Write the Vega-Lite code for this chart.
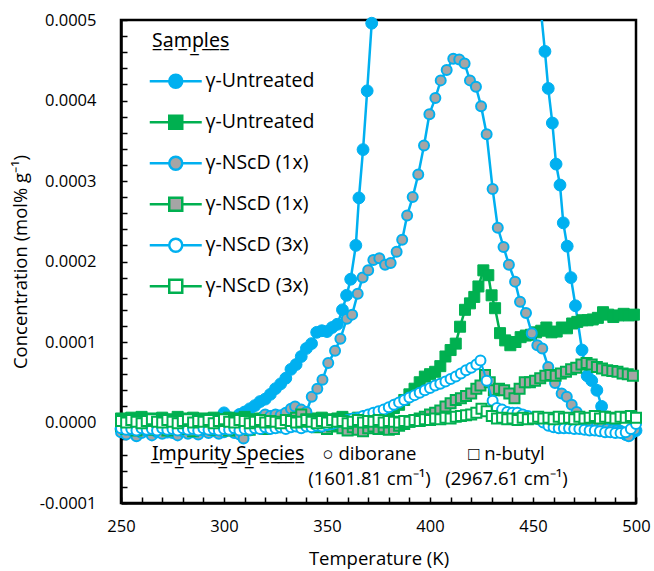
{
"$schema":"https://vega.github.io/schema/vega-lite/v6.json",
"width":515,"height":483,"autosize":"none",
"padding":{"left":121,"top":20,"right":18,"bottom":68},
"config":{"font":"Open Sans","view":{"stroke":"black","strokeWidth":2.5},"axis":{"grid":false},"style":{"guide-label":{"lineHeight":25}}},
"datasets":{"d":[
{"s":"A","T":250,"c":-0.08e-4},{"s":"A","T":252.5,"c":-0.10e-4},{"s":"A","T":255,"c":-0.07e-4},{"s":"A","T":257.5,"c":-0.09e-4},{"s":"A","T":260,"c":-0.11e-4},{"s":"A","T":262.5,"c":-0.08e-4},{"s":"A","T":265,"c":-0.10e-4},{"s":"A","T":267.5,"c":-0.07e-4},{"s":"A","T":270,"c":-0.09e-4},{"s":"A","T":272.5,"c":-0.12e-4},{"s":"A","T":275,"c":-0.08e-4},{"s":"A","T":277.5,"c":-0.09e-4},{"s":"A","T":280,"c":-0.06e-4},{"s":"A","T":282.5,"c":-0.10e-4},{"s":"A","T":285,"c":-0.08e-4},{"s":"A","T":287.5,"c":-0.07e-4},{"s":"A","T":290,"c":-0.05e-4},{"s":"A","T":292.5,"c":-0.04e-4},{"s":"A","T":295,"c":-0.02e-4},{"s":"A","T":297.5,"c":0.02e-4},{"s":"A","T":300,"c":0.12e-4},{"s":"A","T":302.5,"c":0.06e-4},{"s":"A","T":305,"c":0.05e-4},{"s":"A","T":307.5,"c":0.10e-4},{"s":"A","T":310,"c":0.13e-4},{"s":"A","T":312.5,"c":0.17e-4},{"s":"A","T":315,"c":0.21e-4},{"s":"A","T":317.5,"c":0.26e-4},{"s":"A","T":320,"c":0.29e-4},{"s":"A","T":322.5,"c":0.35e-4},{"s":"A","T":325,"c":0.42e-4},{"s":"A","T":327.5,"c":0.48e-4},{"s":"A","T":330,"c":0.55e-4},{"s":"A","T":332.5,"c":0.66e-4},{"s":"A","T":335,"c":0.72e-4},{"s":"A","T":337.5,"c":0.82e-4},{"s":"A","T":340,"c":0.92e-4},{"s":"A","T":342.5,"c":0.98e-4},{"s":"A","T":345,"c":1.12e-4},{"s":"A","T":347.5,"c":1.14e-4},{"s":"A","T":350,"c":1.13e-4},{"s":"A","T":352.5,"c":1.18e-4},{"s":"A","T":355,"c":1.22e-4},{"s":"A","T":357.5,"c":1.40e-4},{"s":"A","T":359.5,"c":1.58e-4},{"s":"A","T":361.5,"c":1.78e-4},{"s":"A","T":364,"c":2.20e-4},{"s":"A","T":365.5,"c":2.79e-4},{"s":"A","T":367.5,"c":3.39e-4},{"s":"A","T":369.5,"c":4.12e-4},{"s":"A","T":371.7,"c":4.96e-4},{"s":"A","T":374,"c":5.9e-4},{"s":"A","T":378,"c":7.5e-4},{"s":"A","T":385,"c":9.3e-4},{"s":"A","T":395,"c":10.6e-4},{"s":"A","T":405,"c":11.3e-4},{"s":"A","T":415,"c":11.4e-4},{"s":"A","T":425,"c":10.8e-4},{"s":"A","T":435,"c":9.4e-4},{"s":"A","T":445,"c":7.3e-4},{"s":"A","T":451,"c":5.9e-4},{"s":"A","T":453.5,"c":5.2e-4},{"s":"A","T":455.8,"c":4.61e-4},{"s":"A","T":457.4,"c":4.15e-4},{"s":"A","T":459.4,"c":3.72e-4},{"s":"A","T":461.2,"c":3.21e-4},{"s":"A","T":463.1,"c":2.95e-4},{"s":"A","T":464.7,"c":2.48e-4},{"s":"A","T":466.6,"c":2.19e-4},{"s":"A","T":468.4,"c":1.80e-4},{"s":"A","T":470.6,"c":1.45e-4},{"s":"A","T":473.8,"c":0.90e-4},{"s":"A","T":476.3,"c":0.58e-4},{"s":"A","T":478.5,"c":0.52e-4},{"s":"A","T":481,"c":0.40e-4},{"s":"A","T":483.3,"c":0.20e-4},{"s":"A","T":485.8,"c":0.07e-4},{"s":"A","T":488.2,"c":-0.03e-4},{"s":"A","T":490.5,"c":-0.08e-4},{"s":"A","T":492.5,"c":-0.11e-4},{"s":"A","T":495,"c":-0.15e-4},{"s":"A","T":497.5,"c":-0.14e-4},{"s":"A","T":500,"c":-0.10e-4},
{"s":"B","T":250,"c":0.05e-4},{"s":"B","T":252.5,"c":0.03e-4},{"s":"B","T":255,"c":0.06e-4},{"s":"B","T":257.5,"c":0.04e-4},{"s":"B","T":260,"c":0.07e-4},{"s":"B","T":262.5,"c":0.03e-4},{"s":"B","T":265,"c":0.05e-4},{"s":"B","T":267.5,"c":0.02e-4},{"s":"B","T":270,"c":0.06e-4},{"s":"B","T":272.5,"c":0.04e-4},{"s":"B","T":275,"c":0.03e-4},{"s":"B","T":277.5,"c":0.07e-4},{"s":"B","T":280,"c":0.05e-4},{"s":"B","T":282.5,"c":0.02e-4},{"s":"B","T":285,"c":0.06e-4},{"s":"B","T":287.5,"c":0.04e-4},{"s":"B","T":290,"c":0.05e-4},{"s":"B","T":292.5,"c":0.03e-4},{"s":"B","T":295,"c":0.06e-4},{"s":"B","T":297.5,"c":0.04e-4},{"s":"B","T":300,"c":0.02e-4},{"s":"B","T":302.5,"c":0.06e-4},{"s":"B","T":305,"c":0.05e-4},{"s":"B","T":307.5,"c":0.03e-4},{"s":"B","T":310,"c":0.07e-4},{"s":"B","T":312.5,"c":0.04e-4},{"s":"B","T":315,"c":0.02e-4},{"s":"B","T":317.5,"c":0.05e-4},{"s":"B","T":320,"c":0.06e-4},{"s":"B","T":322.5,"c":0.03e-4},{"s":"B","T":325,"c":0.04e-4},{"s":"B","T":327.5,"c":0.07e-4},{"s":"B","T":330,"c":0.05e-4},{"s":"B","T":332.5,"c":0.03e-4},{"s":"B","T":335,"c":0.02e-4},{"s":"B","T":337.5,"c":0.06e-4},{"s":"B","T":340,"c":0.04e-4},{"s":"B","T":342.5,"c":0.05e-4},{"s":"B","T":345,"c":0.03e-4},{"s":"B","T":347.5,"c":0.06e-4},{"s":"B","T":350,"c":0.04e-4},{"s":"B","T":352.5,"c":0.02e-4},{"s":"B","T":355,"c":0.05e-4},{"s":"B","T":357.5,"c":0.07e-4},{"s":"B","T":360,"c":0.04e-4},{"s":"B","T":362.5,"c":0.03e-4},{"s":"B","T":365,"c":0.06e-4},{"s":"B","T":367.5,"c":0.05e-4},{"s":"B","T":370,"c":0.08e-4},{"s":"B","T":372.5,"c":0.06e-4},{"s":"B","T":375,"c":0.09e-4},{"s":"B","T":377.5,"c":0.11e-4},{"s":"B","T":380,"c":0.14e-4},{"s":"B","T":382.5,"c":0.18e-4},{"s":"B","T":385,"c":0.22e-4},{"s":"B","T":387.5,"c":0.28e-4},{"s":"B","T":390,"c":0.35e-4},{"s":"B","T":392.5,"c":0.42e-4},{"s":"B","T":395,"c":0.50e-4},{"s":"B","T":397.5,"c":0.57e-4},{"s":"B","T":400,"c":0.60e-4},{"s":"B","T":402.5,"c":0.63e-4},{"s":"B","T":405,"c":0.70e-4},{"s":"B","T":407.5,"c":0.82e-4},{"s":"B","T":410,"c":0.90e-4},{"s":"B","T":412.5,"c":0.98e-4},{"s":"B","T":414.6,"c":1.19e-4},{"s":"B","T":417,"c":1.40e-4},{"s":"B","T":419.4,"c":1.48e-4},{"s":"B","T":421.5,"c":1.56e-4},{"s":"B","T":423.5,"c":1.69e-4},{"s":"B","T":425.9,"c":1.89e-4},{"s":"B","T":428.3,"c":1.83e-4},{"s":"B","T":429.9,"c":1.58e-4},{"s":"B","T":431.6,"c":1.42e-4},{"s":"B","T":434,"c":1.11e-4},{"s":"B","T":436.5,"c":1.02e-4},{"s":"B","T":439,"c":0.96e-4},{"s":"B","T":441.5,"c":1.00e-4},{"s":"B","T":444,"c":1.06e-4},{"s":"B","T":446.5,"c":1.08e-4},{"s":"B","T":449,"c":1.09e-4},{"s":"B","T":451.5,"c":1.12e-4},{"s":"B","T":454,"c":1.14e-4},{"s":"B","T":456.5,"c":1.18e-4},{"s":"B","T":459,"c":1.12e-4},{"s":"B","T":461.5,"c":1.13e-4},{"s":"B","T":464,"c":1.18e-4},{"s":"B","T":466.5,"c":1.17e-4},{"s":"B","T":469,"c":1.23e-4},{"s":"B","T":471.5,"c":1.25e-4},{"s":"B","T":474,"c":1.27e-4},{"s":"B","T":476.5,"c":1.27e-4},{"s":"B","T":479,"c":1.28e-4},{"s":"B","T":481.5,"c":1.30e-4},{"s":"B","T":484,"c":1.37e-4},{"s":"B","T":486.5,"c":1.34e-4},{"s":"B","T":489,"c":1.31e-4},{"s":"B","T":491.5,"c":1.33e-4},{"s":"B","T":494,"c":1.35e-4},{"s":"B","T":496.5,"c":1.33e-4},{"s":"B","T":499,"c":1.34e-4},
{"s":"C","T":250,"c":-0.12e-4},{"s":"C","T":252.5,"c":-0.15e-4},{"s":"C","T":255,"c":-0.10e-4},{"s":"C","T":257.5,"c":-0.17e-4},{"s":"C","T":260,"c":-0.13e-4},{"s":"C","T":262.5,"c":-0.11e-4},{"s":"C","T":265,"c":-0.16e-4},{"s":"C","T":267.5,"c":-0.12e-4},{"s":"C","T":270,"c":-0.14e-4},{"s":"C","T":272.5,"c":-0.10e-4},{"s":"C","T":275,"c":-0.13e-4},{"s":"C","T":277.5,"c":-0.16e-4},{"s":"C","T":280,"c":-0.11e-4},{"s":"C","T":282.5,"c":-0.14e-4},{"s":"C","T":285,"c":-0.12e-4},{"s":"C","T":287.5,"c":-0.15e-4},{"s":"C","T":290,"c":-0.10e-4},{"s":"C","T":292.5,"c":-0.13e-4},{"s":"C","T":295,"c":-0.11e-4},{"s":"C","T":297.5,"c":-0.14e-4},{"s":"C","T":300,"c":-0.12e-4},{"s":"C","T":302.5,"c":-0.10e-4},{"s":"C","T":305,"c":-0.13e-4},{"s":"C","T":307.5,"c":-0.15e-4},{"s":"C","T":309.5,"c":-0.20e-4},{"s":"C","T":312.5,"c":-0.10e-4},{"s":"C","T":315,"c":-0.04e-4},{"s":"C","T":317.5,"c":0.03e-4},{"s":"C","T":320,"c":0.10e-4},{"s":"C","T":322.5,"c":0.08e-4},{"s":"C","T":325,"c":0.10e-4},{"s":"C","T":327.5,"c":0.09e-4},{"s":"C","T":330,"c":0.12e-4},{"s":"C","T":332.5,"c":0.17e-4},{"s":"C","T":334.5,"c":0.20e-4},{"s":"C","T":337.5,"c":0.16e-4},{"s":"C","T":340,"c":0.13e-4},{"s":"C","T":342.6,"c":0.32e-4},{"s":"C","T":345.3,"c":0.42e-4},{"s":"C","T":347.8,"c":0.53e-4},{"s":"C","T":350.6,"c":0.74e-4},{"s":"C","T":353.9,"c":0.89e-4},{"s":"C","T":356.5,"c":1.04e-4},{"s":"C","T":359.6,"c":1.29e-4},{"s":"C","T":362.2,"c":1.34e-4},{"s":"C","T":364.9,"c":1.60e-4},{"s":"C","T":367.3,"c":1.80e-4},{"s":"C","T":370,"c":1.89e-4},{"s":"C","T":372.5,"c":2.02e-4},{"s":"C","T":375.4,"c":2.04e-4},{"s":"C","T":378.2,"c":1.96e-4},{"s":"C","T":380.9,"c":1.98e-4},{"s":"C","T":383.8,"c":2.12e-4},{"s":"C","T":386.5,"c":2.27e-4},{"s":"C","T":388.9,"c":2.57e-4},{"s":"C","T":391.6,"c":2.80e-4},{"s":"C","T":394.3,"c":3.08e-4},{"s":"C","T":397.1,"c":3.44e-4},{"s":"C","T":399.7,"c":3.83e-4},{"s":"C","T":402.6,"c":4.03e-4},{"s":"C","T":405.2,"c":4.25e-4},{"s":"C","T":408.1,"c":4.38e-4},{"s":"C","T":411.3,"c":4.52e-4},{"s":"C","T":414.2,"c":4.51e-4},{"s":"C","T":416.8,"c":4.46e-4},{"s":"C","T":419.4,"c":4.25e-4},{"s":"C","T":422.3,"c":4.17e-4},{"s":"C","T":424.8,"c":3.93e-4},{"s":"C","T":427.5,"c":3.58e-4},{"s":"C","T":430.4,"c":2.90e-4},{"s":"C","T":432.9,"c":2.42e-4},{"s":"C","T":435.7,"c":2.18e-4},{"s":"C","T":438.3,"c":1.96e-4},{"s":"C","T":441.3,"c":1.75e-4},{"s":"C","T":443.7,"c":1.50e-4},{"s":"C","T":446.6,"c":1.36e-4},{"s":"C","T":449.4,"c":1.11e-4},{"s":"C","T":452.1,"c":0.96e-4},{"s":"C","T":454.5,"c":0.92e-4},{"s":"C","T":457.4,"c":0.69e-4},{"s":"C","T":460.7,"c":0.49e-4},{"s":"C","T":463.9,"c":0.36e-4},{"s":"C","T":466.4,"c":0.32e-4},{"s":"C","T":468.8,"c":0.22e-4},{"s":"C","T":471.2,"c":0.13e-4},{"s":"C","T":473.5,"c":0.07e-4},{"s":"C","T":475.5,"c":0.03e-4},{"s":"C","T":478,"c":-0.01e-4},{"s":"C","T":480.9,"c":-0.05e-4},{"s":"C","T":483.5,"c":-0.06e-4},{"s":"C","T":485.8,"c":-0.08e-4},{"s":"C","T":488.5,"c":-0.09e-4},{"s":"C","T":490.5,"c":-0.10e-4},{"s":"C","T":492.5,"c":-0.11e-4},{"s":"C","T":494.5,"c":-0.14e-4},{"s":"C","T":496.5,"c":-0.17e-4},{"s":"C","T":499.5,"c":-0.09e-4},
{"s":"D","T":250,"c":-0.04e-4},{"s":"D","T":252.5,"c":-0.08e-4},{"s":"D","T":255,"c":-0.02e-4},{"s":"D","T":257.5,"c":-0.10e-4},{"s":"D","T":260,"c":-0.05e-4},{"s":"D","T":262.5,"c":-0.01e-4},{"s":"D","T":265,"c":-0.09e-4},{"s":"D","T":267.5,"c":-0.06e-4},{"s":"D","T":270,"c":-0.03e-4},{"s":"D","T":272.5,"c":-0.10e-4},{"s":"D","T":275,"c":-0.05e-4},{"s":"D","T":277.5,"c":-0.02e-4},{"s":"D","T":280,"c":-0.08e-4},{"s":"D","T":282.5,"c":-0.04e-4},{"s":"D","T":285,"c":-0.11e-4},{"s":"D","T":287.5,"c":-0.06e-4},{"s":"D","T":290,"c":-0.02e-4},{"s":"D","T":292.5,"c":-0.07e-4},{"s":"D","T":295,"c":-0.09e-4},{"s":"D","T":297.5,"c":-0.03e-4},{"s":"D","T":300,"c":-0.05e-4},{"s":"D","T":302.5,"c":-0.10e-4},{"s":"D","T":305,"c":-0.04e-4},{"s":"D","T":307.5,"c":-0.07e-4},{"s":"D","T":310,"c":-0.02e-4},{"s":"D","T":312.5,"c":-0.09e-4},{"s":"D","T":315,"c":-0.05e-4},{"s":"D","T":317.5,"c":-0.03e-4},{"s":"D","T":320,"c":-0.08e-4},{"s":"D","T":322.5,"c":-0.04e-4},{"s":"D","T":325,"c":-0.06e-4},{"s":"D","T":327.5,"c":-0.02e-4},{"s":"D","T":330,"c":-0.05e-4},{"s":"D","T":332.5,"c":0.02e-4},{"s":"D","T":335,"c":0.06e-4},{"s":"D","T":337.5,"c":0.10e-4},{"s":"D","T":340,"c":0.04e-4},{"s":"D","T":342.5,"c":-0.02e-4},{"s":"D","T":345,"c":-0.06e-4},{"s":"D","T":347.5,"c":-0.04e-4},{"s":"D","T":350,"c":-0.08e-4},{"s":"D","T":352.5,"c":-0.05e-4},{"s":"D","T":355,"c":-0.03e-4},{"s":"D","T":357.5,"c":-0.07e-4},{"s":"D","T":360,"c":-0.10e-4},{"s":"D","T":362.5,"c":-0.06e-4},{"s":"D","T":365,"c":-0.09e-4},{"s":"D","T":367.5,"c":-0.11e-4},{"s":"D","T":370,"c":-0.07e-4},{"s":"D","T":372.5,"c":-0.05e-4},{"s":"D","T":375,"c":-0.08e-4},{"s":"D","T":377.5,"c":-0.06e-4},{"s":"D","T":380,"c":-0.09e-4},{"s":"D","T":382.5,"c":-0.08e-4},{"s":"D","T":385,"c":-0.04e-4},{"s":"D","T":387.5,"c":-0.02e-4},{"s":"D","T":390,"c":0.01e-4},{"s":"D","T":392.5,"c":0.03e-4},{"s":"D","T":395,"c":0.05e-4},{"s":"D","T":397.5,"c":0.07e-4},{"s":"D","T":400,"c":0.10e-4},{"s":"D","T":402.5,"c":0.12e-4},{"s":"D","T":405,"c":0.15e-4},{"s":"D","T":407.5,"c":0.20e-4},{"s":"D","T":410,"c":0.24e-4},{"s":"D","T":412.5,"c":0.28e-4},{"s":"D","T":415,"c":0.30e-4},{"s":"D","T":417.5,"c":0.33e-4},{"s":"D","T":420,"c":0.36e-4},{"s":"D","T":422.5,"c":0.42e-4},{"s":"D","T":424.5,"c":0.46e-4},{"s":"D","T":426.7,"c":0.59e-4},{"s":"D","T":429,"c":0.50e-4},{"s":"D","T":431,"c":0.40e-4},{"s":"D","T":433.5,"c":0.42e-4},{"s":"D","T":436,"c":0.40e-4},{"s":"D","T":438.5,"c":0.36e-4},{"s":"D","T":441,"c":0.30e-4},{"s":"D","T":443.5,"c":0.42e-4},{"s":"D","T":446,"c":0.50e-4},{"s":"D","T":448.5,"c":0.50e-4},{"s":"D","T":451,"c":0.52e-4},{"s":"D","T":453.5,"c":0.55e-4},{"s":"D","T":456,"c":0.58e-4},{"s":"D","T":458.5,"c":0.59e-4},{"s":"D","T":461,"c":0.58e-4},{"s":"D","T":463.5,"c":0.61e-4},{"s":"D","T":466,"c":0.63e-4},{"s":"D","T":468.5,"c":0.66e-4},{"s":"D","T":471,"c":0.68e-4},{"s":"D","T":473.5,"c":0.72e-4},{"s":"D","T":476,"c":0.74e-4},{"s":"D","T":478.5,"c":0.72e-4},{"s":"D","T":481,"c":0.69e-4},{"s":"D","T":483.5,"c":0.67e-4},{"s":"D","T":486,"c":0.65e-4},{"s":"D","T":488.5,"c":0.64e-4},{"s":"D","T":491,"c":0.63e-4},{"s":"D","T":493.5,"c":0.61e-4},{"s":"D","T":496,"c":0.60e-4},{"s":"D","T":498.5,"c":0.58e-4},
{"s":"E","T":250,"c":-0.07e-4},{"s":"E","T":252.5,"c":-0.09e-4},{"s":"E","T":255,"c":-0.08e-4},{"s":"E","T":257.5,"c":-0.10e-4},{"s":"E","T":260,"c":-0.07e-4},{"s":"E","T":262.5,"c":-0.09e-4},{"s":"E","T":265,"c":-0.08e-4},{"s":"E","T":267.5,"c":-0.10e-4},{"s":"E","T":270,"c":-0.07e-4},{"s":"E","T":272.5,"c":-0.09e-4},{"s":"E","T":275,"c":-0.08e-4},{"s":"E","T":277.5,"c":-0.10e-4},{"s":"E","T":280,"c":-0.07e-4},{"s":"E","T":282.5,"c":-0.09e-4},{"s":"E","T":285,"c":-0.08e-4},{"s":"E","T":287.5,"c":-0.10e-4},{"s":"E","T":290,"c":-0.07e-4},{"s":"E","T":292.5,"c":-0.09e-4},{"s":"E","T":295,"c":-0.08e-4},{"s":"E","T":297.5,"c":-0.10e-4},{"s":"E","T":300,"c":-0.08e-4},{"s":"E","T":302.5,"c":-0.09e-4},{"s":"E","T":305,"c":-0.07e-4},{"s":"E","T":307.5,"c":-0.10e-4},{"s":"E","T":310,"c":-0.08e-4},{"s":"E","T":312.5,"c":-0.09e-4},{"s":"E","T":315,"c":-0.07e-4},{"s":"E","T":317.5,"c":-0.08e-4},{"s":"E","T":320,"c":-0.06e-4},{"s":"E","T":322.5,"c":-0.08e-4},{"s":"E","T":325,"c":-0.07e-4},{"s":"E","T":327.5,"c":-0.06e-4},{"s":"E","T":330,"c":-0.08e-4},{"s":"E","T":332.5,"c":-0.06e-4},{"s":"E","T":335,"c":-0.05e-4},{"s":"E","T":337.5,"c":-0.07e-4},{"s":"E","T":340,"c":-0.05e-4},{"s":"E","T":342.5,"c":-0.06e-4},{"s":"E","T":345,"c":-0.04e-4},{"s":"E","T":347.5,"c":-0.05e-4},{"s":"E","T":350,"c":-0.03e-4},{"s":"E","T":352.5,"c":-0.02e-4},{"s":"E","T":355,"c":0.00e-4},{"s":"E","T":357.5,"c":0.02e-4},{"s":"E","T":360,"c":0.03e-4},{"s":"E","T":362.5,"c":0.05e-4},{"s":"E","T":365,"c":0.06e-4},{"s":"E","T":367.5,"c":0.08e-4},{"s":"E","T":370,"c":0.10e-4},{"s":"E","T":372.5,"c":0.12e-4},{"s":"E","T":375,"c":0.14e-4},{"s":"E","T":377.5,"c":0.16e-4},{"s":"E","T":380,"c":0.19e-4},{"s":"E","T":382.5,"c":0.22e-4},{"s":"E","T":385,"c":0.25e-4},{"s":"E","T":387.5,"c":0.28e-4},{"s":"E","T":390,"c":0.31e-4},{"s":"E","T":392.5,"c":0.34e-4},{"s":"E","T":395,"c":0.37e-4},{"s":"E","T":397.5,"c":0.40e-4},{"s":"E","T":400,"c":0.43e-4},{"s":"E","T":402.5,"c":0.46e-4},{"s":"E","T":405,"c":0.48e-4},{"s":"E","T":407.5,"c":0.51e-4},{"s":"E","T":410,"c":0.54e-4},{"s":"E","T":412.5,"c":0.57e-4},{"s":"E","T":415,"c":0.61e-4},{"s":"E","T":417.5,"c":0.65e-4},{"s":"E","T":420,"c":0.68e-4},{"s":"E","T":422.5,"c":0.72e-4},{"s":"E","T":424.5,"c":0.77e-4},{"s":"E","T":427.5,"c":0.52e-4},{"s":"E","T":430.4,"c":0.27e-4},{"s":"E","T":432.5,"c":0.18e-4},{"s":"E","T":435,"c":0.16e-4},{"s":"E","T":437.5,"c":0.13e-4},{"s":"E","T":440,"c":0.12e-4},{"s":"E","T":442.5,"c":0.12e-4},{"s":"E","T":445,"c":0.10e-4},{"s":"E","T":447.5,"c":0.08e-4},{"s":"E","T":450,"c":0.06e-4},{"s":"E","T":452.5,"c":0.04e-4},{"s":"E","T":455,"c":0.00e-4},{"s":"E","T":457.5,"c":-0.04e-4},{"s":"E","T":460,"c":-0.06e-4},{"s":"E","T":462.5,"c":-0.07e-4},{"s":"E","T":465,"c":-0.07e-4},{"s":"E","T":467.5,"c":-0.07e-4},{"s":"E","T":470,"c":-0.08e-4},{"s":"E","T":472.5,"c":-0.08e-4},{"s":"E","T":475,"c":-0.09e-4},{"s":"E","T":477.5,"c":-0.10e-4},{"s":"E","T":480,"c":-0.10e-4},{"s":"E","T":482.5,"c":-0.11e-4},{"s":"E","T":485,"c":-0.12e-4},{"s":"E","T":487.5,"c":-0.12e-4},{"s":"E","T":490,"c":-0.13e-4},{"s":"E","T":492.5,"c":-0.13e-4},{"s":"E","T":495,"c":-0.12e-4},{"s":"E","T":497.5,"c":-0.08e-4},{"s":"E","T":500,"c":-0.02e-4},
{"s":"F","T":250,"c":0.02e-4},{"s":"F","T":252.5,"c":0.00e-4},{"s":"F","T":255,"c":0.03e-4},{"s":"F","T":257.5,"c":0.01e-4},{"s":"F","T":260,"c":-0.01e-4},{"s":"F","T":262.5,"c":0.02e-4},{"s":"F","T":265,"c":0.04e-4},{"s":"F","T":267.5,"c":0.01e-4},{"s":"F","T":270,"c":0.00e-4},{"s":"F","T":272.5,"c":0.03e-4},{"s":"F","T":275,"c":0.01e-4},{"s":"F","T":277.5,"c":-0.01e-4},{"s":"F","T":280,"c":0.02e-4},{"s":"F","T":282.5,"c":0.04e-4},{"s":"F","T":285,"c":0.00e-4},{"s":"F","T":287.5,"c":0.02e-4},{"s":"F","T":290,"c":0.01e-4},{"s":"F","T":292.5,"c":0.03e-4},{"s":"F","T":295,"c":-0.01e-4},{"s":"F","T":297.5,"c":0.02e-4},{"s":"F","T":300,"c":0.04e-4},{"s":"F","T":302.5,"c":0.01e-4},{"s":"F","T":305,"c":0.00e-4},{"s":"F","T":307.5,"c":0.03e-4},{"s":"F","T":310,"c":0.02e-4},{"s":"F","T":312.5,"c":-0.01e-4},{"s":"F","T":315,"c":0.01e-4},{"s":"F","T":317.5,"c":0.03e-4},{"s":"F","T":320,"c":0.00e-4},{"s":"F","T":322.5,"c":0.02e-4},{"s":"F","T":325,"c":0.01e-4},{"s":"F","T":327.5,"c":-0.01e-4},{"s":"F","T":330,"c":0.03e-4},{"s":"F","T":332.5,"c":0.02e-4},{"s":"F","T":335,"c":0.00e-4},{"s":"F","T":337.5,"c":0.01e-4},{"s":"F","T":340,"c":0.03e-4},{"s":"F","T":342.5,"c":0.01e-4},{"s":"F","T":345,"c":-0.01e-4},{"s":"F","T":347.5,"c":0.02e-4},{"s":"F","T":350,"c":0.00e-4},{"s":"F","T":352.5,"c":0.03e-4},{"s":"F","T":355,"c":0.01e-4},{"s":"F","T":357.5,"c":0.02e-4},{"s":"F","T":360,"c":-0.01e-4},{"s":"F","T":362.5,"c":0.01e-4},{"s":"F","T":365,"c":0.03e-4},{"s":"F","T":367.5,"c":0.00e-4},{"s":"F","T":370,"c":0.02e-4},{"s":"F","T":372.5,"c":0.01e-4},{"s":"F","T":375,"c":0.03e-4},{"s":"F","T":377.5,"c":0.00e-4},{"s":"F","T":380,"c":0.02e-4},{"s":"F","T":382.5,"c":0.01e-4},{"s":"F","T":385,"c":0.00e-4},{"s":"F","T":387.5,"c":0.02e-4},{"s":"F","T":390,"c":0.01e-4},{"s":"F","T":392.5,"c":0.03e-4},{"s":"F","T":395,"c":0.02e-4},{"s":"F","T":397.5,"c":0.04e-4},{"s":"F","T":400,"c":0.03e-4},{"s":"F","T":402.5,"c":0.05e-4},{"s":"F","T":405,"c":0.04e-4},{"s":"F","T":407.5,"c":0.06e-4},{"s":"F","T":410,"c":0.05e-4},{"s":"F","T":412.5,"c":0.07e-4},{"s":"F","T":415,"c":0.08e-4},{"s":"F","T":417.5,"c":0.09e-4},{"s":"F","T":420,"c":0.10e-4},{"s":"F","T":422.5,"c":0.12e-4},{"s":"F","T":425,"c":0.17e-4},{"s":"F","T":427.5,"c":0.14e-4},{"s":"F","T":430,"c":0.08e-4},{"s":"F","T":432.5,"c":0.05e-4},{"s":"F","T":435,"c":0.06e-4},{"s":"F","T":437.5,"c":0.04e-4},{"s":"F","T":440,"c":0.05e-4},{"s":"F","T":442.5,"c":0.03e-4},{"s":"F","T":445,"c":0.06e-4},{"s":"F","T":447.5,"c":0.04e-4},{"s":"F","T":450,"c":0.05e-4},{"s":"F","T":452.5,"c":0.07e-4},{"s":"F","T":455,"c":0.05e-4},{"s":"F","T":457.5,"c":0.06e-4},{"s":"F","T":460,"c":0.04e-4},{"s":"F","T":462.5,"c":0.07e-4},{"s":"F","T":465,"c":0.05e-4},{"s":"F","T":467.5,"c":0.06e-4},{"s":"F","T":470,"c":0.04e-4},{"s":"F","T":472.5,"c":0.07e-4},{"s":"F","T":475,"c":0.05e-4},{"s":"F","T":477.5,"c":0.06e-4},{"s":"F","T":480,"c":0.08e-4},{"s":"F","T":482.5,"c":0.05e-4},{"s":"F","T":485,"c":0.07e-4},{"s":"F","T":487.5,"c":0.06e-4},{"s":"F","T":490,"c":0.05e-4},{"s":"F","T":492.5,"c":0.07e-4},{"s":"F","T":495,"c":0.06e-4},{"s":"F","T":497.5,"c":0.08e-4},{"s":"F","T":500,"c":0.06e-4}
]},
"encoding":{
"x":{"field":"T","type":"quantitative","scale":{"domain":[250,500],"nice":false,"zero":false},
"axis":{"title":"Temperature (K)","values":[250,260,270,280,290,300,310,320,330,340,350,360,370,380,390,400,410,420,430,440,450,460,470,480,490,500],
"labelExpr":"datum.value % 50 === 0 ? datum.label : ''","tickSize":-6,"tickWidth":1.5,"tickColor":"black","labelPadding":21,"labelFontSize":16.5,"labelColor":"black","labelOverlap":false,"labelFlush":false,"labelBound":false,"domainColor":"black","domainWidth":2.5,"grid":false,"titleFontSize":18.5,"titleFontWeight":"normal","titleColor":"black","titleX":257.5,"titleY":55,"titleBaseline":"middle"}},
"y":{"field":"c","type":"quantitative","scale":{"domain":[-0.0001,0.0005],"nice":false,"zero":false},
"axis":{"title":"Concentration (mol% g⁻¹)","values":[-0.0001,-0.00008,-0.00006,-0.00004,-0.00002,0,0.00002,0.00004,0.00006,0.00008,0.0001,0.00012,0.00014,0.00016,0.00018,0.0002,0.00022,0.00024,0.00026,0.00028,0.0003,0.00032,0.00034,0.00036,0.00038,0.0004,0.00042,0.00044,0.00046,0.00048,0.0005],
"labelExpr":"abs(datum.value*10000 - round(datum.value*10000)) < 0.001 ? replace(format(datum.value,'.4f'),'−','-') : ''","tickSize":-6,"tickWidth":1.5,"tickColor":"black","labelPadding":31,"labelFontSize":16.5,"labelColor":"black","labelOverlap":false,"labelFlush":false,"labelBound":false,"domainColor":"black","domainWidth":2.5,"grid":false,"titleFontSize":18.5,"titleFontWeight":"normal","titleColor":"black","titleX":-101,"titleY":241.5,"titleBaseline":"middle"}}
},
"layer":[
{"data":{"name":"d"},"transform":[{"filter":"datum.s==='A'"}],"mark":{"type":"line","stroke":"#00B0F0","strokeWidth":2.5,"clip":true}},
{"data":{"name":"d"},"transform":[{"filter":"datum.s==='A' && datum.c <= 0.0005"}],"mark":{"type":"point","shape":"circle","filled":true,"fill":"#00B0F0","stroke":"#00B0F0","strokeWidth":1,"size":140,"opacity":1}},
{"data":{"name":"d"},"transform":[{"filter":"datum.s==='B'"}],"mark":{"type":"line","stroke":"#00B050","strokeWidth":2.5,"clip":true}},
{"data":{"name":"d"},"transform":[{"filter":"datum.s==='B'"}],"mark":{"type":"point","shape":"square","filled":true,"fill":"#00B050","stroke":"#00B050","strokeWidth":1,"size":121,"opacity":1}},
{"data":{"name":"d"},"transform":[{"filter":"datum.s==='C'"}],"mark":{"type":"line","stroke":"#00B0F0","strokeWidth":2.5,"clip":true}},
{"data":{"name":"d"},"transform":[{"filter":"datum.s==='C'"}],"mark":{"type":"point","shape":"circle","filled":true,"fill":"#A5A5A5","stroke":"#00B0F0","strokeWidth":2,"size":100,"opacity":1}},
{"data":{"name":"d"},"transform":[{"filter":"datum.s==='D'"}],"mark":{"type":"line","stroke":"#00B050","strokeWidth":2.5,"clip":true}},
{"data":{"name":"d"},"transform":[{"filter":"datum.s==='D'"}],"mark":{"type":"point","shape":"square","filled":true,"fill":"#A5A5A5","stroke":"#00B050","strokeWidth":2,"size":100,"opacity":1}},
{"data":{"name":"d"},"transform":[{"filter":"datum.s==='E'"}],"mark":{"type":"line","stroke":"#00B0F0","strokeWidth":2,"clip":true}},
{"data":{"name":"d"},"transform":[{"filter":"datum.s==='E'"}],"mark":{"type":"point","shape":"circle","filled":true,"fill":"#FFFFFF","stroke":"#00B0F0","strokeWidth":2,"size":100,"opacity":1}},
{"data":{"name":"d"},"transform":[{"filter":"datum.s==='F'"}],"mark":{"type":"line","stroke":"#00B050","strokeWidth":2,"clip":true}},
{"data":{"name":"d"},"transform":[{"filter":"datum.s==='F'"}],"mark":{"type":"point","shape":"square","filled":true,"fill":"#FFFFFF","stroke":"#00B050","strokeWidth":2,"size":100,"opacity":1}},
{"data":{"values":[{"s":"A"},{"s":"B"},{"s":"C"},{"s":"D"},{"s":"E"},{"s":"F"}]},
"mark":{"type":"point","filled":true,"opacity":0},
"encoding":{
"shape":{"field":"s","type":"nominal","scale":{"domain":["A","B","C","D","E","F"],"range":["M-4,0H-1M-1,0A1,1,0,1,1,1,0A1,1,0,1,1,-1,0ZM1,0H4","M-4,0H-1M-1,-1H1V1H-1ZM1,0H4","M-4,0H-1M-1,0A1,1,0,1,1,1,0A1,1,0,1,1,-1,0ZM1,0H4","M-4,0H-1M-1,-1H1V1H-1ZM1,0H4","M-4,0H-1M-1,0A1,1,0,1,1,1,0A1,1,0,1,1,-1,0ZM1,0H4","M-4,0H-1M-1,-1H1V1H-1ZM1,0H4"]},
"legend":{"title":"S\u0332a\u0332m\u0332p\u0332l\u0332e\u0332s\u0332","titleFont":"Noto Sans","orient":"none","legendX":31,"legendY":12,"padding":0,"titleFontSize":19.5,"titleFontWeight":"normal","titleColor":"black","titlePadding":20,"labelFontSize":19.5,"labelColor":"black","labelLimit":300,
"labelExpr":"['γ-Untreated','γ-Untreated','γ-NScD (1x)','γ-NScD (1x)','γ-NScD (3x)','γ-NScD (3x)'][indexof('ABCDEF', datum.label)]",
"symbolSize":169,"symbolStrokeWidth":2.5,"symbolOffset":14,"labelOffset":20,"rowPadding":17,"symbolOpacity":1}},
"fill":{"field":"s","type":"nominal","scale":{"domain":["A","B","C","D","E","F"],"range":["#00B0F0","#00B050","#A5A5A5","#A5A5A5","#FFFFFF","#FFFFFF"]}},
"stroke":{"field":"s","type":"nominal","scale":{"domain":["A","B","C","D","E","F"],"range":["#00B0F0","#00B050","#00B0F0","#00B050","#00B0F0","#00B050"]}}
}},
{"data":{"values":[{"sp":"diborane"},{"sp":"n-butyl"}]},
"mark":{"type":"point","opacity":0},
"encoding":{
"strokeDash":{"field":"sp","type":"nominal","scale":{"domain":["diborane","n-butyl"]},
"legend":{"title":"I\u0332m\u0332p\u0332u\u0332r\u0332i\u0332t\u0332y\u0332 \u0332S\u0332p\u0332e\u0332c\u0332i\u0332e\u0332s\u0332","titleFont":"Noto Sans","orient":"none","legendX":31,"legendY":416,"direction":"horizontal","titleOrient":"left","titleAnchor":"start","padding":0,"titleFontSize":19.5,"titleFontWeight":"normal","titleColor":"black","titlePadding":14,"titleBaseline":"line-top","titleLineHeight":36,"labelFontSize":18.5,"labelAlign":"center","labelBaseline":"top","labelLimit":300,"labelOffset":32,"columnPadding":14,"symbolSize":0,"symbolOpacity":0,"symbolStrokeWidth":0,
"labelExpr":"datum.label === 'diborane' ? ['○ diborane','(1601.81 cm⁻¹)'] : ['□ n-butyl','(2967.61 cm⁻¹)']",
"encode":{"labels":{"update":{"fill":{"signal":"datum.value === 'diborane' ? '#00B0F0' : '#00B050'"}}}}}}
}}
]
}
